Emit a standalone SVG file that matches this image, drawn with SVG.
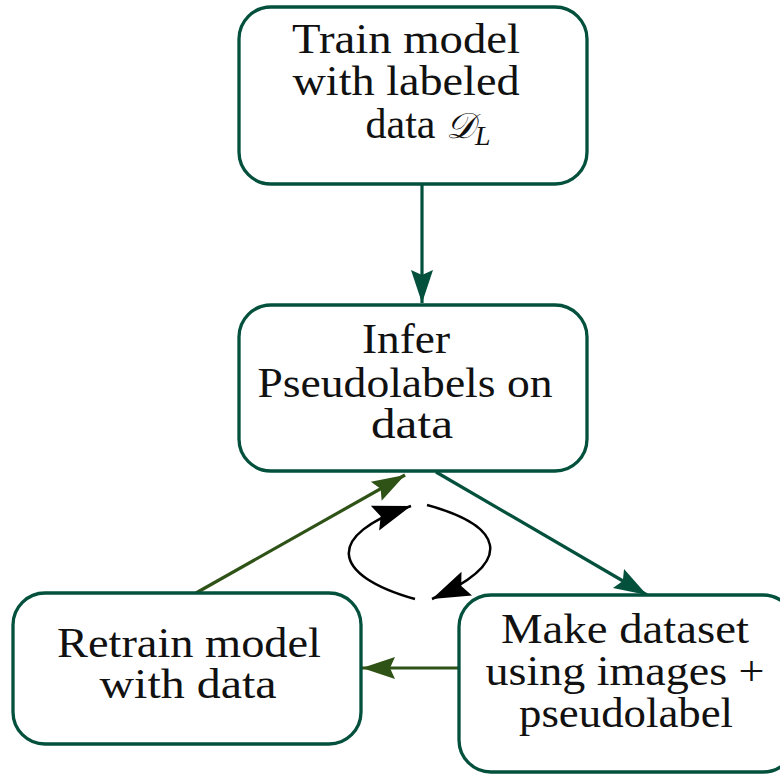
<svg xmlns="http://www.w3.org/2000/svg" width="780" height="774" viewBox="0 0 780 774">
<style>
.box{fill:#fff;stroke:#03503c;stroke-width:3.3}
.t{font-family:"Liberation Serif","DejaVu Serif",serif;font-size:42px;fill:#111;text-anchor:middle}
.c1{fill:none;stroke:#03503c;stroke-width:3.2}
.c2{fill:none;stroke:#2f5217;stroke-width:3.2}
.c3{fill:none;stroke:#000;stroke-width:2.5}
</style>
<defs>
<marker id="ag" markerUnits="userSpaceOnUse" markerWidth="40" markerHeight="30" viewBox="0 0 40 30" refX="36" refY="15" orient="auto"><path d="M3,4 L36,15 L3,26 L8,15 Z" fill="#03503c"/></marker>
<marker id="ao" markerUnits="userSpaceOnUse" markerWidth="40" markerHeight="30" viewBox="0 0 40 30" refX="36" refY="15" orient="auto"><path d="M3,4 L36,15 L3,26 L8,15 Z" fill="#2f5217"/></marker>
<marker id="ab" markerUnits="userSpaceOnUse" markerWidth="44" markerHeight="34" viewBox="0 0 44 34" refX="40" refY="17" orient="auto"><path d="M2,4 L40,17 L2,30 L8,17 Z" fill="#000"/></marker>
</defs>
<g id="connectors">
<line class="c1" x1="422" y1="185" x2="422" y2="303" marker-end="url(#ag)"/>
<line class="c1" x1="436" y1="472" x2="647" y2="595" marker-end="url(#ag)"/>
<line class="c2" x1="459" y1="668" x2="362" y2="668" marker-end="url(#ao)"/>
<line class="c2" x1="196" y1="593" x2="405" y2="475" marker-end="url(#ao)"/>
<path class="c3" d="M427,505 C500,525 520,560 432,599" marker-end="url(#ab)"/>
<path class="c3" d="M415,599 C330,575 325,535 411,506" marker-end="url(#ab)"/>
</g>
<g id="train">
<rect class="box" x="239" y="7" width="348" height="177" rx="32"/>
<text class="t" x="406" y="53" textLength="228" lengthAdjust="spacingAndGlyphs">Train model</text>
<text class="t" x="406" y="95" textLength="227" lengthAdjust="spacingAndGlyphs">with labeled</text>
<text class="t" x="428" y="138">data <tspan font-family="DejaVu Serif" font-style="italic" font-size="36">𝒟</tspan><tspan font-style="italic" font-size="28" dy="7">L</tspan></text>
</g>
<g id="infer">
<rect class="box" x="239" y="305" width="348" height="166" rx="32"/>
<text class="t" x="406" y="353" textLength="88" lengthAdjust="spacingAndGlyphs">Infer</text>
<text class="t" x="405" y="397" textLength="295" lengthAdjust="spacingAndGlyphs">Pseudolabels on</text>
<text class="t" x="412" y="438" textLength="82" lengthAdjust="spacingAndGlyphs">data</text>
</g>
<g id="retrain">
<rect class="box" x="13" y="593" width="348" height="151" rx="32"/>
<text class="t" x="189" y="657" textLength="264" lengthAdjust="spacingAndGlyphs">Retrain model</text>
<text class="t" x="188" y="698" textLength="177" lengthAdjust="spacingAndGlyphs">with data</text>
</g>
<g id="make">
<rect class="box" x="459" y="595" width="336" height="177" rx="32"/>
<text class="t" x="625" y="643" textLength="248" lengthAdjust="spacingAndGlyphs">Make dataset</text>
<text class="t" x="625" y="685" textLength="279" lengthAdjust="spacingAndGlyphs">using images +</text>
<text class="t" x="626" y="727" textLength="214" lengthAdjust="spacingAndGlyphs">pseudolabel</text>
</g>
</svg>
